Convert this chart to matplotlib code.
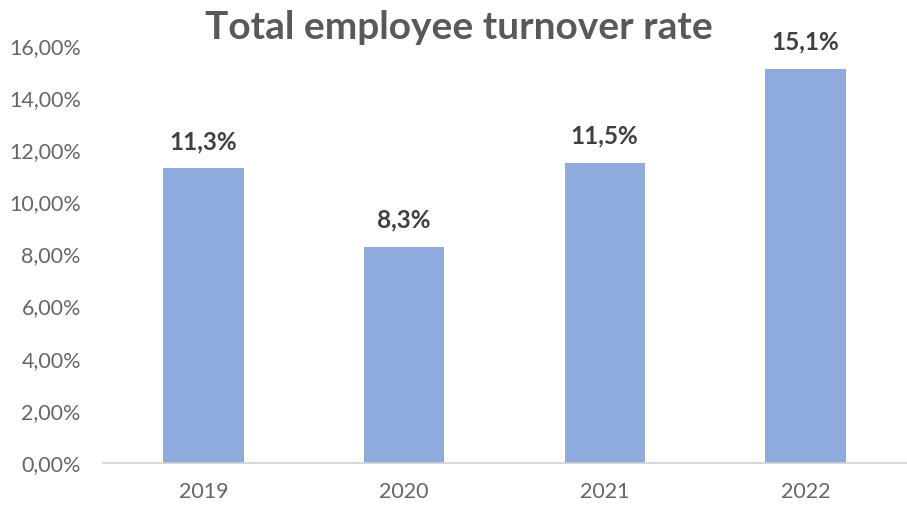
import matplotlib
matplotlib.use("Agg")
import matplotlib.pyplot as plt
from matplotlib.ticker import FuncFormatter

years = ["2019", "2020", "2021", "2022"]
turnover_pct = [11.3, 8.3, 11.5, 15.1]
value_labels = ["11,3%", "8,3%", "11,5%", "15,1%"]

plt.rcParams["font.family"] = ["Lato", "DejaVu Sans"]

fig = plt.figure(figsize=(9.07, 5.05), dpi=100)
ax = fig.add_axes([0.1136, 0.0832, 0.885, 0.826])

x = range(len(years))
bars = ax.bar(x, turnover_pct, width=0.4, color="#8faadc", zorder=2)

for b, lab in zip(bars, value_labels):
    ax.annotate(lab, (b.get_x() + b.get_width() / 2, b.get_height()),
                xytext=(0, 14), textcoords="offset points",
                ha="center", va="baseline", fontsize=17.5, fontweight="bold",
                color="#404040")

ax.set_xlim(-0.5, 3.5)
ax.set_ylim(0, 16)
ax.set_yticks(range(0, 17, 2))
ax.yaxis.set_major_formatter(FuncFormatter(lambda v, p: f"{v:.2f}%".replace(".", ",")))
ax.set_xticks(list(x))
ax.set_xticklabels(years)

for s in ["top", "right", "left"]:
    ax.spines[s].set_visible(False)
ax.spines["bottom"].set_color("#d0d0d0")
ax.spines["bottom"].set_linewidth(1.2)
ax.tick_params(axis="both", length=0, labelsize=15.5, labelcolor="#666666")
ax.tick_params(axis="x", pad=14)
ax.tick_params(axis="y", pad=16)

fig.text(0.506, 0.945, "Total employee turnover rate", ha="center", va="center",
         fontsize=28, fontweight="bold", color="#595959")

fig.savefig("out.png", dpi=100)
